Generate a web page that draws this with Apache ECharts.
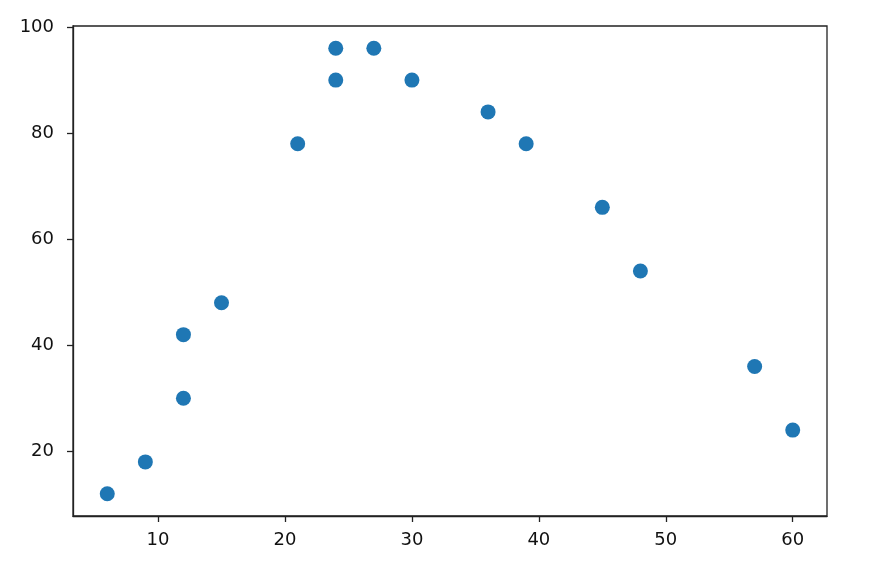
<!DOCTYPE html>
<html>
<head>
<meta charset="utf-8">
<script src="https://cdn.jsdelivr.net/npm/echarts@6/dist/echarts.min.js"></script>
<style>html,body{margin:0;padding:0;background:#fff}#c{width:874px;height:578px}</style>
</head>
<body>
<div id="c"></div>
<script>
const xValues = [6, 9, 12, 12, 15, 21, 24, 24, 27, 30, 36, 39, 45, 48, 57, 60];
const yValues = [12, 18, 30, 42, 48, 78, 90, 96, 96, 90, 84, 78, 66, 54, 36, 24];
const xTicks = [10, 20, 30, 40, 50, 60];
const yTicks = [20, 40, 60, 80, 100];

const points = xValues.map((x, i) => [x, yValues[i]]);
const chart = echarts.init(document.getElementById('c'), null, {renderer: 'canvas'});
const axisCommon = {
  axisLine: {show: true, onZero: false, lineStyle: {color: '#222', width: 1.3}},
  axisTick: {show: true, inside: false, length: 6, lineStyle: {color: '#222', width: 1.3}},
  axisLabel: {color: '#111', fontFamily: 'DejaVu Sans', fontSize: 18},
  splitLine: {show: false}
};
chart.setOption({
  animation: false,
  grid: {left: 73, right: 47, top: 26, bottom: 62, show: true, borderColor: '#222', borderWidth: 1.3},
  xAxis: Object.assign({}, axisCommon, {
    type: 'value', min: 3.3, max: 62.7,
    axisTick: Object.assign({}, axisCommon.axisTick, {customValues: xTicks}),
    axisLabel: Object.assign({}, axisCommon.axisLabel, {customValues: xTicks, margin: 15})
  }),
  yAxis: Object.assign({}, axisCommon, {
    type: 'value', min: 7.8, max: 100.2,
    axisTick: Object.assign({}, axisCommon.axisTick, {customValues: yTicks}),
    axisLabel: Object.assign({}, axisCommon.axisLabel, {customValues: yTicks, margin: 19})
  }),
  series: [{
    type: 'scatter',
    data: points,
    symbolSize: 15,
    itemStyle: {color: '#1f77b4', opacity: 1}
  }]
});
</script>
</body>
</html>
